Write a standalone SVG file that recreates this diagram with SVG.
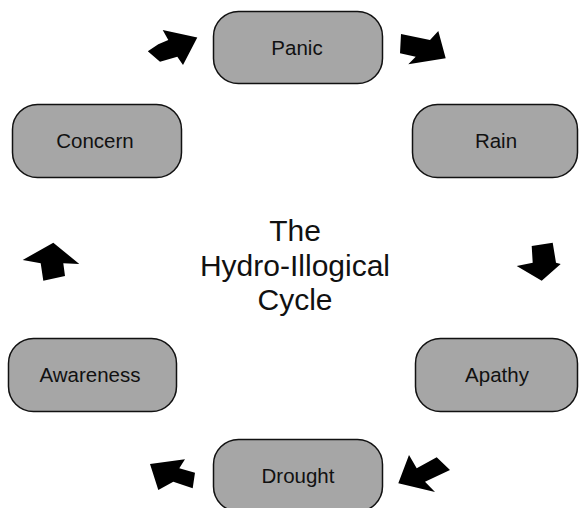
<svg xmlns="http://www.w3.org/2000/svg" width="579" height="508" viewBox="0 0 579 508">
<style>
.node rect{fill:#a6a6a6;stroke:#111;stroke-width:1.5}
.node text{font-family:"Liberation Sans",Arial,sans-serif;font-size:20.5px;fill:#111;text-anchor:middle}
.title{font-family:"Liberation Sans",Arial,sans-serif;font-size:30px;fill:#111;text-anchor:middle}
.arrows polygon{fill:#000}
</style>
<rect width="579" height="508" fill="#fff"/>
<g id="panic" class="node"><rect x="213.5" y="11.5" width="169" height="72" rx="25"/><text x="297" y="55">Panic</text></g>
<g id="rain" class="node"><rect x="412.5" y="104.5" width="165" height="73" rx="25"/><text x="496" y="148">Rain</text></g>
<g id="apathy" class="node"><rect x="415.5" y="338.5" width="162" height="73" rx="25"/><text x="497" y="382">Apathy</text></g>
<g id="drought" class="node"><rect x="213.5" y="439.5" width="169" height="72" rx="25"/><text x="298" y="483">Drought</text></g>
<g id="awareness" class="node"><rect x="8.5" y="338.5" width="168" height="73" rx="25"/><text x="90" y="382">Awareness</text></g>
<g id="concern" class="node"><rect x="12.5" y="104.5" width="169" height="73" rx="25"/><text x="95" y="148">Concern</text></g>
<g id="title"><text class="title"><tspan x="295" y="241">The</tspan><tspan x="295" y="276">Hydro-Illogical</tspan><tspan x="295" y="310">Cycle</tspan></text></g>
<g id="connectors" class="arrows">
<polygon points="162.7,30 197.3,37.5 183,65 177.3,56.7 160,61.7 147.8,51.3 158.3,44.3 168.3,40"/>
<polygon points="401,34 430,40 438.3,31 445.7,58.3 408.3,64.3 415.7,56.7 400,53.3"/>
<polygon points="531.7,246 552.7,242.7 556,262.7 560.7,264 541.7,280.7 516.7,266 532.7,262.7"/>
<polygon points="53.3,242.7 79.3,264 63.3,263.3 65,276 43.3,280.7 40.7,263.3 22.7,260"/>
<polygon points="150,464 185,459.3 179.3,468.3 195,472.7 192.7,488.3 173.3,481.7 158.3,490"/>
<polygon points="398.3,483.3 409,455 416.7,468.3 436.7,457.3 450,470 425,481.7 435,492"/>
</g>
</svg>
